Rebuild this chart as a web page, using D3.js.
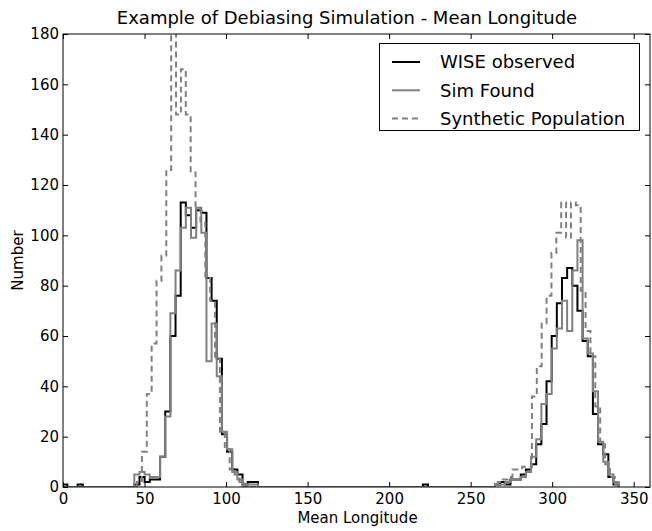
<!DOCTYPE html>
<html><head><meta charset="utf-8">
<script src="https://cdn.jsdelivr.net/npm/d3@7"></script>
<style>
html,body{margin:0;padding:0;background:#fff;}
svg{display:block;font-family:"DejaVu Sans",sans-serif;}
</style></head>
<body>
<svg id="chart" width="652" height="531"></svg>
<script>
// ---- data ----
const seriesNames = ["WISE observed", "Sim Found", "Synthetic Population"];
const xTicks = [0, 50, 100, 150, 200, 250, 300, 350];
const yTicks = [0, 20, 40, 60, 80, 100, 120, 140, 160, 180];

// WISE observed / Sim Found share bins: first edge -0.5, width 3.16 deg
const obsBinStart = -0.5, obsBinWidth = 3.16;
const wiseObserved = [
  1,0,0,1,
  0,0,0,0,0,0,0,0,0,0,
  1,4,2,3,3,12,30,60,76,113,108,103,110,109,83,74,51,21,14,7,5,1,2,2,
  0,0,0,0,0,0,0,0,0,0,0,0,0,0,0,0,0,0,0,0,0,0,0,0,0,0,0,0,0,0,0,0,
  1,
  0,0,0,0,0,0,0,0,0,0,0,0,0,
  1,2,1,3,3,5,7,9,17,25,42,60,73,83,87,80,70,58,52,29,17,13,4,1
];
const simFound = [
  0,0,0,0,0,0,0,0,0,0,0,0,0,0,
  5,6,5,4,4,12,28,69,86,103,111,99,111,101,50,65,44,22,15,6,3,0,1,1,
  0,0,0,0,0,0,0,0,0,0,0,0,0,0,0,0,0,0,0,0,0,0,0,0,0,0,0,0,0,0,0,0,0,0,0,0,0,0,0,0,0,0,0,0,0,0,
  1,1,2,3,3,4,6,12,19,33,37,55,63,74,62,86,98,59,53,38,18,10,5,2
];
// Synthetic population: first edge 45.41, width 2.99 deg
const synBinStart = 45.41, synBinWidth = 2.99;
const syntheticPop = [
  2,14,37,57,82,92,126,196,148,166,148,125,111,105,83,74,51,22,15,7,5,2,1,
  0,0,0,0,0,0,0,0,0,0,0,0,0,0,0,0,0,0,0,0,0,0,0,0,0,0,0,0,0,0,0,0,0,0,0,0,0,0,0,0,0,0,0,0,0,0,0,0,0,0,0,
  2,3,4,7,7,8,8,36,48,65,76,93,101,113,99,113,112,78,62,52,32,17,9,4,1
];

// ---- layout ----
const W = 652, H = 531;
const plot = {left: 63, right: 650, top: 34, bottom: 487};
const svg = d3.select("#chart");
const x = d3.scaleLinear().domain([0, 360]).range([plot.left, plot.right]);
const y = d3.scaleLinear().domain([0, 180]).range([plot.bottom, plot.top]);

svg.append("defs").append("clipPath").attr("id", "clip")
  .append("rect").attr("x", plot.left).attr("y", plot.top)
  .attr("width", plot.right - plot.left).attr("height", plot.bottom - plot.top);

function stepPoints(start, width, counts) {
  const pts = [[start, 0]];
  counts.forEach((c, i) => {
    const x0 = start + i * width, x1 = x0 + width;
    pts.push([x0, c], [x1, c]);
  });
  pts.push([start + counts.length * width, 0]);
  return pts;
}
const line = d3.line().x(d => x(d[0])).y(d => y(d[1]));

const series = [
  {name: seriesNames[0], pts: stepPoints(obsBinStart, obsBinWidth, wiseObserved), color: "#000000", dash: null},
  {name: seriesNames[1], pts: stepPoints(obsBinStart, obsBinWidth, simFound), color: "#808080", dash: null},
  {name: seriesNames[2], pts: stepPoints(synBinStart, synBinWidth, syntheticPop), color: "#808080", dash: "6,4"}
];

const g = svg.append("g").attr("clip-path", "url(#clip)");
series.forEach(s => {
  g.append("path").attr("d", line(s.pts)).attr("fill", "none")
    .attr("stroke", s.color).attr("stroke-width", 2)
    .attr("stroke-linejoin", "miter")
    .attr("stroke-dasharray", s.dash);
});

// ---- axes ----
const fs = "15px";
const ax = svg.append("g").attr("transform", `translate(0,${plot.bottom})`)
  .call(d3.axisBottom(x).tickValues(xTicks).tickSizeInner(-5).tickSizeOuter(0).tickPadding(6));
const ay = svg.append("g").attr("transform", `translate(${plot.left},0)`)
  .call(d3.axisLeft(y).tickValues(yTicks).tickSizeInner(-5).tickSizeOuter(0).tickPadding(4));
const at = svg.append("g").attr("transform", `translate(0,${plot.top})`)
  .call(d3.axisTop(x).tickValues(xTicks).tickSizeInner(-5).tickSizeOuter(0).tickFormat(""));
const ar = svg.append("g").attr("transform", `translate(${plot.right},0)`)
  .call(d3.axisRight(y).tickValues(yTicks).tickSizeInner(-5).tickSizeOuter(0).tickFormat(""));
[ax, ay, at, ar].forEach(a => {
  a.select(".domain").remove();
  a.selectAll("text").attr("font-size", fs).attr("font-family", "DejaVu Sans").attr("fill", "#000");
  a.selectAll("line").attr("stroke", "#000");
});

svg.append("rect").attr("x", plot.left).attr("y", plot.top)
  .attr("width", plot.right - plot.left).attr("height", plot.bottom - plot.top)
  .attr("fill", "none").attr("stroke", "#000").attr("stroke-width", 1);

// labels
svg.append("text").attr("x", (plot.left + plot.right) / 2 + 1).attr("y", 523)
  .attr("text-anchor", "middle").attr("font-size", "15px").text("Mean Longitude");
svg.append("text").attr("transform", `translate(23,${(plot.top + plot.bottom) / 2}) rotate(-90)`)
  .attr("text-anchor", "middle").attr("font-size", "15px").text("Number");
svg.append("text").attr("x", 347).attr("y", 24)
  .attr("text-anchor", "middle").attr("font-size", "18px").text("Example of Debiasing Simulation - Mean Longitude");

// legend
const lg = svg.append("g");
lg.append("rect").attr("x", 379.5).attr("y", 43.5).attr("width", 260).attr("height", 87)
  .attr("fill", "#fff").attr("stroke", "#000").attr("stroke-width", 1);
series.forEach((s, i) => {
  const yy = 62 + i * 28.3;
  lg.append("line").attr("x1", 392).attr("x2", 420).attr("y1", yy).attr("y2", yy)
    .attr("stroke", s.color).attr("stroke-width", 2).attr("stroke-dasharray", s.dash);
  lg.append("text").attr("x", 440).attr("y", yy).attr("dy", "0.35em")
    .attr("font-size", "18px").text(s.name);
});
</script>
</body></html>
